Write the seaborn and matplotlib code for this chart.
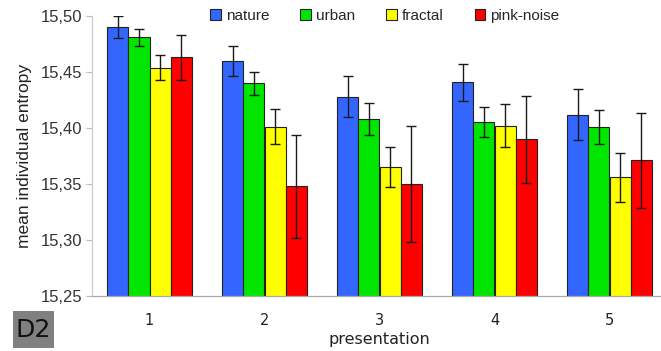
import numpy as np
import pandas as pd
import matplotlib
matplotlib.use("Agg")
import matplotlib.pyplot as plt
import seaborn as sns
from matplotlib.patches import Patch, Rectangle
from matplotlib.ticker import FuncFormatter

presentations = ["1", "2", "3", "4", "5"]
conditions = ["nature", "urban", "fractal", "pink-noise"]

nature = [15.490, 15.460, 15.428, 15.441, 15.412]
urban = [15.481, 15.440, 15.408, 15.405, 15.401]
fractal = [15.454, 15.401, 15.365, 15.402, 15.356]
pink_noise = [15.463, 15.348, 15.350, 15.390, 15.371]

nature_err = [0.010, 0.0135, 0.018, 0.0165, 0.0225]
urban_err = [0.0078, 0.0103, 0.0143, 0.0134, 0.0154]
fractal_err = [0.011, 0.0157, 0.0177, 0.019, 0.022]
pink_noise_err = [0.0197, 0.046, 0.052, 0.0387, 0.0425]

colors = ["#3366ff", "#00e600", "#ffff00", "#ff0000"]

values = [nature, urban, fractal, pink_noise]
errors = [nature_err, urban_err, fractal_err, pink_noise_err]
df = pd.DataFrame({
    "presentation": np.tile(presentations, len(conditions)),
    "condition": np.repeat(conditions, len(presentations)),
    "entropy": np.concatenate(values),
    "err": np.concatenate(errors),
})

sns.set_style("white")
plt.rcParams["font.family"] = ["Liberation Sans", "DejaVu Sans"]

fig = plt.figure(figsize=(6.61, 3.51), dpi=100)
W, H = 661, 351
ax_left, ax_right, ax_top, ax_bot = 92, 667, 16, 296
ax = fig.add_axes([ax_left / W, (H - ax_bot) / H,
                   (ax_right - ax_left) / W, (ax_bot - ax_top) / H])

sns.barplot(data=df, x="presentation", y="entropy", hue="condition",
            hue_order=conditions, order=presentations, palette=colors,
            saturation=1, errorbar=None, width=0.74, edgecolor="#222222",
            linewidth=0.8, legend=False, ax=ax)

# error bars centred on each drawn bar
for container, cond in zip(ax.containers, conditions):
    sub = df[df["condition"] == cond].set_index("presentation").loc[presentations]
    xs = [p.get_x() + p.get_width() / 2 for p in container.patches]
    ax.errorbar(xs, sub["entropy"], yerr=sub["err"], fmt="none",
                ecolor="#1a1a1a", elinewidth=1.0, capsize=3.3,
                capthick=1.0, zorder=5)

ax.set_ylim(15.25, 15.50)
ax.set_xlim(-0.5, 4.5)
ax.set_yticks(np.arange(15.25, 15.501, 0.05))
ax.yaxis.set_major_formatter(FuncFormatter(lambda v, p: f"{v:.2f}".replace(".", ",")))
ax.tick_params(axis="y", labelsize=12, length=4, width=0.8, color="#bbbbbb",
               left=True, pad=3, labelcolor="#333333")
ax.set_xticks(range(len(presentations)))
ax.set_xticklabels(presentations, family="DejaVu Sans", fontsize=10.5, color="#222222")
ax.tick_params(axis="x", length=0, pad=12)
# group separator ticks
ax.set_xticks(np.arange(-0.5, 5.0, 1.0), minor=True)
ax.tick_params(axis="x", which="minor", length=4, width=0.8, color="#aaaaaa")

for s in ["top", "right"]:
    ax.spines[s].set_visible(False)
ax.spines["left"].set_color("#cccccc")
ax.spines["bottom"].set_color("#aaaaaa")
ax.spines["left"].set_linewidth(0.9)
ax.spines["bottom"].set_linewidth(0.9)

ax.set_ylabel("mean individual entropy", fontsize=12.5, color="#222222", labelpad=6)
ax.set_xlabel("presentation", family="DejaVu Sans", fontsize=11.5, color="#222222", labelpad=3)

handles = [Patch(facecolor=c, edgecolor="#222222", linewidth=0.8) for c in colors]
fig.legend(handles, conditions, loc="center", bbox_to_anchor=(385 / W, 1 - 16 / H),
           ncol=4, frameon=False, fontsize=11, handlelength=0.7, handleheight=0.7,
           handletextpad=0.35, columnspacing=2.0)

# panel tag
fig.patches.append(Rectangle((13 / W, 1 - 348 / H), 41 / W, 37 / H,
                             transform=fig.transFigure, facecolor="#808080",
                             edgecolor="none"))
fig.text(33.5 / W, 1 - 330 / H, "D2", fontsize=18, color="#111111", ha="center",
         va="center", family="DejaVu Sans")

fig.savefig("out.png", dpi=100)
